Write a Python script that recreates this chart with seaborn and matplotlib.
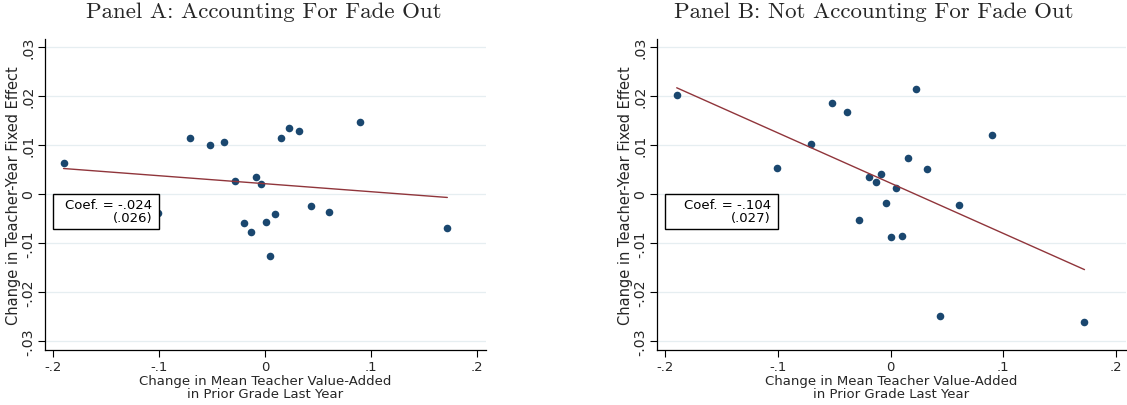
import numpy as np
import pandas as pd
import matplotlib
matplotlib.use('Agg')
import matplotlib.pyplot as plt
import seaborn as sns
from matplotlib.patches import Rectangle

# Binned scatter values
x_vals = [-0.190, -0.101, -0.0706, -0.0523, -0.0388, -0.0278, -0.0196, -0.0134, -0.0083, -0.0038,
          0.0005, 0.0047, 0.0096, 0.0152, 0.0223, 0.0318, 0.0437, 0.0603, 0.090, 0.172]
y_panel_a = [0.0063, -0.0039, 0.0114, 0.0099, 0.0106, 0.0026, -0.0060, -0.0078, 0.0035, 0.0020,
             -0.0057, -0.0127, -0.0041, 0.0114, 0.0134, 0.0128, -0.0024, -0.0037, 0.0146, -0.0069]
y_panel_b = [0.0201, 0.0054, 0.0101, 0.0186, 0.0168, -0.0052, 0.0035, 0.0025, 0.0040, -0.0018,
             -0.0087, 0.0012, -0.0085, 0.0074, 0.0214, 0.0050, -0.0248, -0.0022, 0.0120, -0.0261]

# fitted lines (intercept, slope) as drawn in the reference
fit_a = (0.0021, -0.0163)
fit_b = (0.0022, -0.1024)

coef_labels = ['Coef. = -.024\n(.026)', 'Coef. = -.104\n(.027)']
titles = ['Panel A: Accounting For Fade Out', 'Panel B: Not Accounting For Fade Out']

x_ticks = [-0.2, -0.1, 0, 0.1, 0.2]
x_ticklabels = ['-.2', '-.1', '0', '.1', '.2']
y_ticks = [-0.03, -0.02, -0.01, 0, 0.01, 0.02, 0.03]
y_ticklabels = ['-.03', '-.02', '-.01', '0', '.01', '.02', '.03']

NAVY = '#1a476f'
MAROON = '#90353b'
GRID = '#e6eef1'

sns.set_theme(style='white')
plt.rcParams['font.family'] = ['DejaVu Sans']

fig = plt.figure(figsize=(11.27, 4.06), dpi=100)
W, H = 1127, 406

# axes boxes in pixels: left, right, top, bottom
boxes = [(45, 486, 40, 351), (657, 1125.6, 40, 351)]
title_centers = [264, 874]


def draw_panel(ax, y_vals, fit, coef_text):
    df = pd.DataFrame({'x': x_vals, 'y': y_vals})
    for yt in y_ticks:
        ax.axhline(yt, color=GRID, lw=0.9, zorder=0)
    sns.scatterplot(data=df, x='x', y='y', ax=ax, color=NAVY, s=30,
                    edgecolor=NAVY, linewidth=0, zorder=3)
    xs = np.array([min(x_vals), max(x_vals)])
    line_df = pd.DataFrame({'x': xs, 'y': fit[0] + fit[1] * xs})
    sns.lineplot(data=line_df, x='x', y='y', ax=ax, color=MAROON, lw=1.0, zorder=4)

    # coefficient box (white fill, covers points behind it)
    ax.add_patch(Rectangle((-0.2, -0.0071), 0.1, 0.0071, facecolor='white',
                           edgecolor='black', lw=1.0, zorder=5))
    ax.text(-0.1065, -0.0009, coef_text, ha='right', va='top', fontsize=9.5,
            multialignment='right', linespacing=1.0, zorder=6, color='black')

    ax.set_xlim(-0.2075, 0.2085)
    ax.set_ylim(-0.0318, 0.0316)
    ax.set_xticks(x_ticks)
    ax.set_xticklabels(x_ticklabels, fontsize=9.5)
    ax.set_yticks(y_ticks)
    ax.set_yticklabels(y_ticklabels, fontsize=10.2, rotation=90, va='center')
    ax.tick_params(axis='both', which='both', direction='out', length=5, width=0.8,
                   color='black', bottom=True, left=True, pad=2)
    ax.grid(False)
    for side in ['top', 'right']:
        ax.spines[side].set_visible(False)
    for side in ['left', 'bottom']:
        ax.spines[side].set_color('black')
        ax.spines[side].set_linewidth(0.9)
    ax.set_xlabel('Change in Mean Teacher Value-Added\nin Prior Grade Last Year',
                  fontsize=9.5, linespacing=1.0, labelpad=1)
    ax.set_ylabel('Change in Teacher-Year Fixed Effect', fontsize=10.5, labelpad=0)


for i, (l, r, t, b) in enumerate(boxes):
    ax = fig.add_axes([l / W, (H - b) / H, (r - l) / W, (b - t) / H])
    draw_panel(ax, [y_panel_a, y_panel_b][i], [fit_a, fit_b][i], coef_labels[i])
    fig.text(title_centers[i] / W, 1 - 12 / H, titles[i], ha='center', va='center',
             fontsize=16.5, fontname='cmr10')

fig.savefig('out.png', dpi=100)
